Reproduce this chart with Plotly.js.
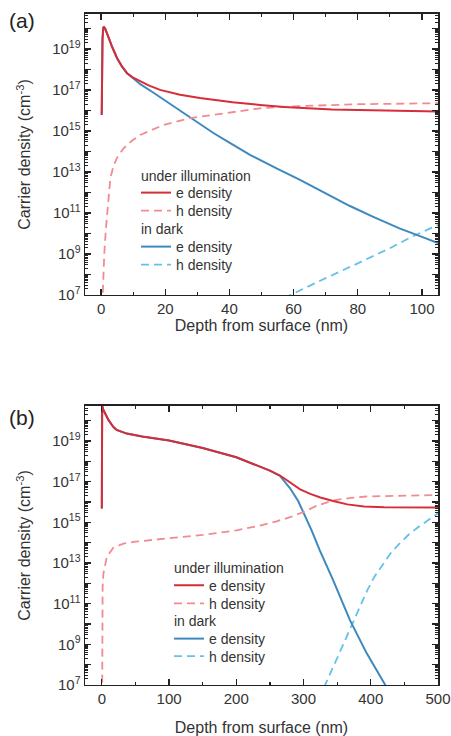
<!DOCTYPE html>
<html>
<head>
<meta charset="utf-8">
<script src="https://cdn.plot.ly/plotly-3.0.1.min.js"></script>
<style>html,body{margin:0;padding:0;background:#fff}#chart{width:451px;height:736px}</style>
</head>
<body>
<div id="chart"></div>
<script>
// ---------- Panel (a): depth 0-105 nm ----------
var aIllumEX = [0.2, 0.3, 0.45, 0.7, 0.9, 1.3, 1.9, 2.6, 3.4, 4.2, 5.0, 6.5, 8.1, 10, 12.2, 15, 18.4, 24.6, 30.8, 41, 49.5, 57, 72, 90, 105];
var aIllumEY = [6.0e15, 1.0e18, 3.0e19, 1.1e20, 1.15e20, 9.5e19, 5.9e19, 2.8e19, 1.3e19, 6.5e18, 3.5e18, 1.4e18, 6.5e17, 4.0e17, 2.6e17, 1.6e17, 1.0e17, 5.8e16, 4.0e16, 2.5e16, 1.85e16, 1.45e16, 1.1e16, 9.5e15, 8.7e15];

var aIllumHX = [0.4, 0.6, 1.0, 1.5, 1.9, 2.4, 2.9, 3.9, 5.0, 7.0, 9.5, 12.2, 19.4, 27.8, 40, 49.5, 60, 80, 105];
var aIllumHY = [3e6, 3.2e7, 1e9, 1.6e10, 1e11, 1.26e12, 5.0e12, 2.0e13, 5.0e13, 1.4e14, 3.2e14, 6.3e14, 1.95e15, 4.2e15, 7.9e15, 1.26e16, 1.58e16, 2.0e16, 2.24e16];

var aDarkEX = [0.2, 0.3, 0.45, 0.7, 0.9, 1.3, 1.9, 2.6, 3.4, 4.2, 5.0, 6.5, 8.1, 10, 12.2, 16, 20, 24, 27.8, 35, 40, 46.4, 55, 62, 70, 77.4, 85, 93, 100, 105];
var aDarkEY = [6.0e15, 1.0e18, 3.0e19, 1.1e20, 1.15e20, 9.5e19, 5.9e19, 2.8e19, 1.3e19, 6.5e18, 3.5e18, 1.4e18, 6.5e17, 3.7e17, 1.9e17, 7.9e16, 3.0e16, 1.12e16, 4.2e15, 7.9e14, 2.7e14, 6.8e13, 1.4e13, 4.1e12, 8.9e11, 2.24e11, 6.3e10, 1.78e10, 6.8e9, 3.4e9];

var aDarkHX = [57, 60, 70, 80, 90, 97, 105];
var aDarkHY = [7.1e6, 1.2e7, 6.6e7, 3.5e8, 1.9e9, 7.1e9, 2.6e10];

// ---------- Panel (b): depth 0-500 nm ----------
var bIllumEX = [0, 0.5, 2, 10, 17, 22, 37, 60, 100, 150, 200, 235, 250, 265, 280, 295, 310, 325, 344, 365, 390, 420, 500];
var bIllumEY = [4.8e15, 5.6e20, 3.5e20, 1.05e20, 5.0e19, 3.5e19, 2.3e19, 1.66e19, 1.05e19, 4.5e18, 1.58e18, 5.4e17, 3.5e17, 2.0e17, 8.9e16, 4.2e16, 2.5e16, 1.66e16, 1.12e16, 7.6e15, 6.0e15, 5.5e15, 5.4e15];

var bIllumHX = [0.5, 0.8, 1.2, 2.4, 5, 7.4, 17, 32, 50, 100, 150, 200, 230, 260, 280, 300, 320, 344, 370, 394, 450, 500];
var bIllumHY = [3e6, 3.2e11, 6.8e11, 3.1e12, 1e13, 2.0e13, 5.6e13, 8.9e13, 1.12e14, 1.58e14, 2.4e14, 4.0e14, 6.3e14, 1.12e15, 1.78e15, 3.2e15, 6.6e15, 1.2e16, 1.58e16, 1.86e16, 2.1e16, 2.2e16];

var bDarkEX = [0, 0.5, 2, 10, 17, 22, 37, 60, 100, 150, 200, 235, 250, 265, 272, 280, 292, 300, 312, 324, 344, 369, 394, 423];
var bDarkEY = [4.8e15, 5.6e20, 3.5e20, 1.05e20, 5.0e19, 3.5e19, 2.3e19, 1.66e19, 1.05e19, 4.5e18, 1.58e18, 5.4e17, 3.5e17, 1.9e17, 1.0e17, 4.7e16, 1.12e16, 3.0e15, 4.0e14, 4.3e13, 1.45e12, 1.55e10, 3.6e8, 8.3e6];

var bDarkHX = [330, 332, 345, 355, 365, 374, 385, 394, 405, 418, 430, 443, 455, 468, 485, 500];
var bDarkHY = [7.9e6, 1.0e7, 8.9e7, 5.0e8, 2.5e9, 1.12e10, 7.9e10, 4.0e11, 2.0e12, 8.9e12, 3.2e13, 9.1e13, 2.24e14, 5.0e14, 1.32e15, 2.8e15];

// ---------- labels ----------
var legendNames = ['e density', 'h density', 'e density', 'h density'];
var groupTitles = ['under illumination', 'in dark'];
var yTickVals = [1e7,1e8,1e9,1e10,1e11,1e12,1e13,1e14,1e15,1e16,1e17,1e18,1e19,1e20];
var yTickText = ['10<sup>7</sup>','','10<sup>9</sup>','','10<sup>11</sup>','','10<sup>13</sup>','','10<sup>15</sup>','','10<sup>17</sup>','','10<sup>19</sup>',''];
var minorDigits = [2, 3, 4, 5, 6, 7, 8, 9];
var xTitle = 'Depth from surface (nm)';
var yTitle = 'Carrier density (cm<sup>-3</sup>)';
var panelLabels = ['(a)', '(b)'];

// minor log tick positions (2..9 x each decade)
var yMinorVals = [];
yTickVals.forEach(function (d) { minorDigits.forEach(function (m) { yMinorVals.push(d * m); }); });

var FONT = 'Liberation Sans, Arial, Helvetica, sans-serif';
var TXT = '#333';
var RED = '#d62d38', PINK = '#f28b90', BLUE = '#3d89bf', SKY = '#63c1ea';

function tr(x, y, ax, ay, leg, name, color, dash) {
  return {
    x: x, y: y, xaxis: ax, yaxis: ay, legend: leg, type: 'scatter', mode: 'lines',
    name: name,
    line: {color: color, width: dash ? 1.8 : 2, dash: dash ? '8px,5px' : 'solid'},
    hoverinfo: 'skip'
  };
}

// dark traces first so the illuminated curves lie on top where they coincide
var data = [
  tr(aDarkHX, aDarkHY, 'x', 'y', 'legend4', legendNames[3], SKY, true),
  tr(aDarkEX, aDarkEY, 'x', 'y', 'legend3', legendNames[2], BLUE, false),
  tr(aIllumHX, aIllumHY, 'x', 'y', 'legend2', legendNames[1], PINK, true),
  tr(aIllumEX, aIllumEY, 'x', 'y', 'legend', legendNames[0], RED, false),
  tr(bDarkHX, bDarkHY, 'x2', 'y2', 'legend8', legendNames[3], SKY, true),
  tr(bDarkEX, bDarkEY, 'x2', 'y2', 'legend7', legendNames[2], BLUE, false),
  tr(bIllumHX, bIllumHY, 'x2', 'y2', 'legend6', legendNames[1], PINK, true),
  tr(bIllumEX, bIllumEY, 'x2', 'y2', 'legend5', legendNames[0], RED, false)
];

function xax(range, dtick, minorDtick, domain, anchor, standoff) {
  return {
    domain: domain, anchor: anchor, range: range, tick0: 0, dtick: dtick,
    ticks: 'inside', ticklen: 6, tickwidth: 1.3, tickcolor: '#222',
    minor: {dtick: minorDtick, ticks: 'inside', ticklen: 3, tickwidth: 1.2, tickcolor: '#222', showgrid: false},
    showline: true, linecolor: '#222', linewidth: 1.5, mirror: 'ticks',
    showgrid: false, zeroline: false, automargin: false,
    tickfont: {size: 15, color: TXT, family: FONT},
    title: {text: xTitle, font: {size: 16, color: TXT, family: FONT}, standoff: standoff}
  };
}
function yax(range, domain, anchor) {
  return {
    domain: domain, anchor: anchor, type: 'log', range: range,
    tickmode: 'array', tickvals: yTickVals, ticktext: yTickText,
    ticks: 'inside', ticklen: 6, tickwidth: 1.3, tickcolor: '#222',
    minor: {tickmode: 'array', tickvals: yMinorVals, ticks: 'inside', ticklen: 3, tickwidth: 1, tickcolor: '#222', showgrid: false},
    showline: true, linecolor: '#222', linewidth: 1.5, mirror: 'ticks',
    showgrid: false, zeroline: false, automargin: false,
    tickfont: {size: 15, color: TXT, family: FONT},
    title: {text: yTitle, font: {size: 16, color: TXT, family: FONT}, standoff: 17}
  };
}
function leg(x, py) {
  return {
    x: x, y: 1 - py / 736, xanchor: 'left', yanchor: 'middle', xref: 'paper', yref: 'paper',
    bgcolor: 'rgba(0,0,0,0)', borderwidth: 0, itemwidth: 30,
    font: {size: 14, color: TXT, family: FONT}
  };
}
function head(text, px, py) {
  return {text: text, xref: 'paper', yref: 'paper', x: px / 451, y: 1 - py / 736,
    xanchor: 'left', yanchor: 'middle', showarrow: false, borderpad: 0,
    font: {size: 14, color: TXT, family: FONT}};
}

var layout = {
  width: 451, height: 736,
  margin: {l: 0, r: 0, t: 0, b: 0},
  paper_bgcolor: '#fff', plot_bgcolor: '#fff',
  font: {family: FONT, color: TXT},
  showlegend: true,
  xaxis: xax([-5, 105], 20, 10, [0.1885, 0.9712], 'y', 2),
  yaxis: yax([7, 20.7], [0.5992, 0.981], 'x'),
  xaxis2: xax([-25, 500], 100, 50, [0.1885, 0.9712], 'y2', 15),
  yaxis2: yax([7, 20.72], [0.0693, 0.4484], 'x2'),
  legend: leg(0.3016, 193),
  legend2: leg(0.3016, 211),
  legend3: leg(0.3016, 247),
  legend4: leg(0.3016, 265),
  legend5: leg(0.3747, 585.7),
  legend6: leg(0.3747, 603.7),
  legend7: leg(0.3747, 639),
  legend8: leg(0.3747, 656.5),
  annotations: [
    {text: panelLabels[0], xref: 'paper', yref: 'paper', x: 7/451, y: 1 - 20/736, xanchor: 'left', yanchor: 'middle', showarrow: false, font: {size: 21, color: '#222', family: FONT}},
    {text: panelLabels[1], xref: 'paper', yref: 'paper', x: 7/451, y: 1 - 417/736, xanchor: 'left', yanchor: 'middle', showarrow: false, font: {size: 21, color: '#222', family: FONT}},
    head(groupTitles[0], 140, 176),
    head(groupTitles[1], 140, 229),
    head(groupTitles[0], 173, 567.7),
    head(groupTitles[1], 173, 621)
  ]
};

Plotly.newPlot('chart', data, layout, {staticPlot: true, displayModeBar: false});
</script>
</body>
</html>
